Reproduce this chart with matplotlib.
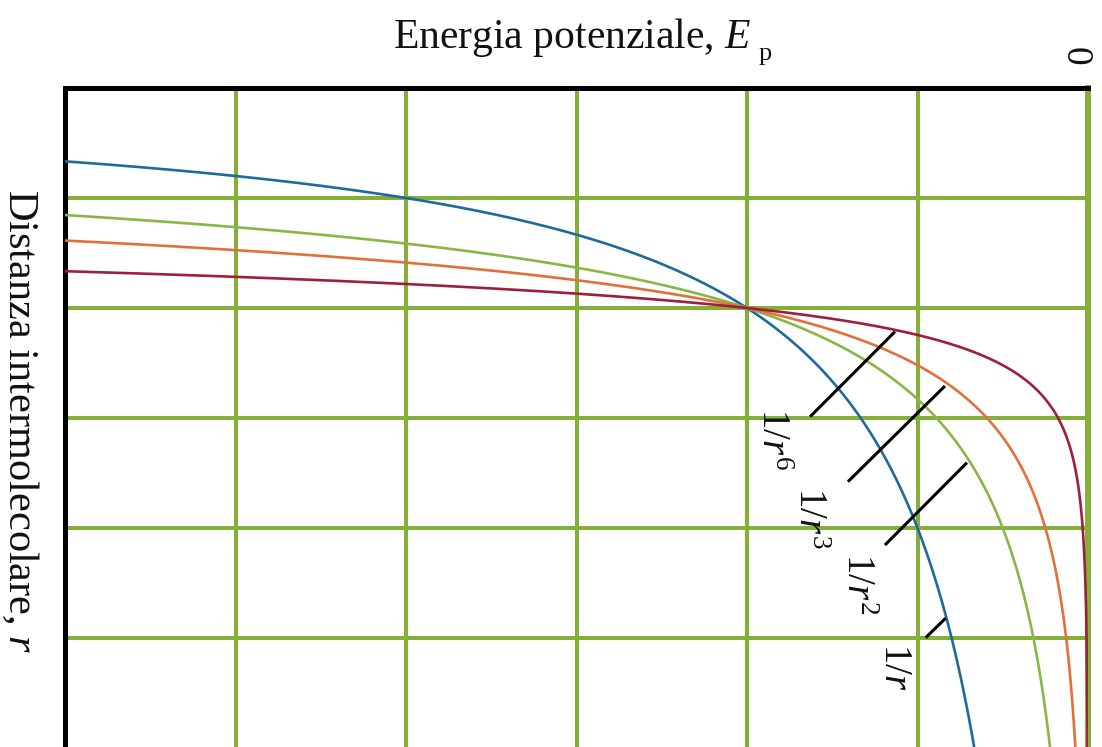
import numpy as np
import matplotlib
matplotlib.use("Agg")
import matplotlib.pyplot as plt

# Power-law attraction potentials E = E0 * (r0 / r)**n, all passing through (r0, E0)
exponents = [1, 2, 3, 6]
curve_labels = ["1/$r$", "1/$r^{2}$", "1/$r^{3}$", "1/$r^{6}$"]
curve_colors = ["#1f6a9c", "#8ab646", "#e2703a", "#9e1f3a"]
r_cross = 2.0      # distance where all curves meet
E_cross = -2.0     # energy at the common point

grid_green = "#84b03a"

plt.rcParams["font.family"] = ["Liberation Serif", "DejaVu Serif"]
plt.rcParams["mathtext.fontset"] = "custom"
plt.rcParams["mathtext.rm"] = "Liberation Serif"
plt.rcParams["mathtext.it"] = "Liberation Serif:italic"

fig = plt.figure(figsize=(11.02, 7.47), dpi=100)
ax = fig.add_axes([65 / 1102, 1 - 748 / 747, 1023 / 1102, 660 / 747])

ax.set_xlim(-6, 0)
ax.set_ylim(6, 0)

# grid
for e in [-5, -4, -3, -2, -1]:
    ax.axvline(e, color=grid_green, lw=2.9, zorder=1)
for rr in [1, 2, 3, 4, 5]:
    ax.axhline(rr, color=grid_green, lw=2.9, zorder=1)

# curves (energy horizontal, distance vertical)
r = np.geomspace(0.4, 6.5, 3000)
for n, col in zip(exponents, curve_colors):
    E = E_cross * (r_cross / r) ** n
    ax.plot(E, r, color=col, lw=1.9, zorder=3, solid_capstyle="butt")

# leader lines and labels
leaders = {
    "1/$r^{6}$": ((-1.630, 2.988), (-1.132, 2.215), (-1.748, 2.909)),
    "1/$r^{3}$": ((-1.408, 3.579), (-0.839, 2.709), (-1.531, 3.627)),
    "1/$r^{2}$": ((-1.191, 4.155), (-0.710, 3.406), (-1.249, 4.227)),
    "1/$r$": ((-0.952, 4.997), (-0.835, 4.820), (-1.026, 5.045)),
}
for lab in curve_labels:
    (e0, r0), (e1, r1), (et, rt) = leaders[lab]
    ax.plot([e0, e1], [r0, r1], color="black", lw=2.2, zorder=4,
            solid_capstyle="butt")
    ax.text(et, rt, lab, fontsize=28, rotation=-90, rotation_mode="anchor",
            ha="left", va="top", color="#111111", zorder=5)

for s in ax.spines.values():
    s.set_visible(False)
for side in ["top", "left"]:
    ax.spines[side].set_visible(True)
    ax.spines[side].set_linewidth(3.6)
    ax.spines[side].set_color("black")
ax.spines["right"].set_visible(True)
ax.spines["right"].set_linewidth(4.3)
ax.spines["right"].set_color(grid_green)
ax.set_xticks([])
ax.set_yticks([])

# axis titles
fig.text(393 / 1102, 1 - 48 / 747, "Energia potenziale, $E$",
         fontsize=30, ha="left", va="baseline", color="#111111")
fig.text(759 / 1102, 1 - 60 / 747, "p",
         fontsize=19, ha="left", va="baseline", color="#111111")
fig.text(1075 / 1102, 1 - 56 / 747, "0", fontsize=27, rotation=-90,
         ha="center", va="center", color="#111111")
fig.text(20 / 1102, 1 - 421 / 747, "Distanza intermolecolare, $r$",
         fontsize=30.5, rotation=-90, ha="center", va="center", color="#111111")

fig.savefig("out.png", dpi=100, facecolor="white")
